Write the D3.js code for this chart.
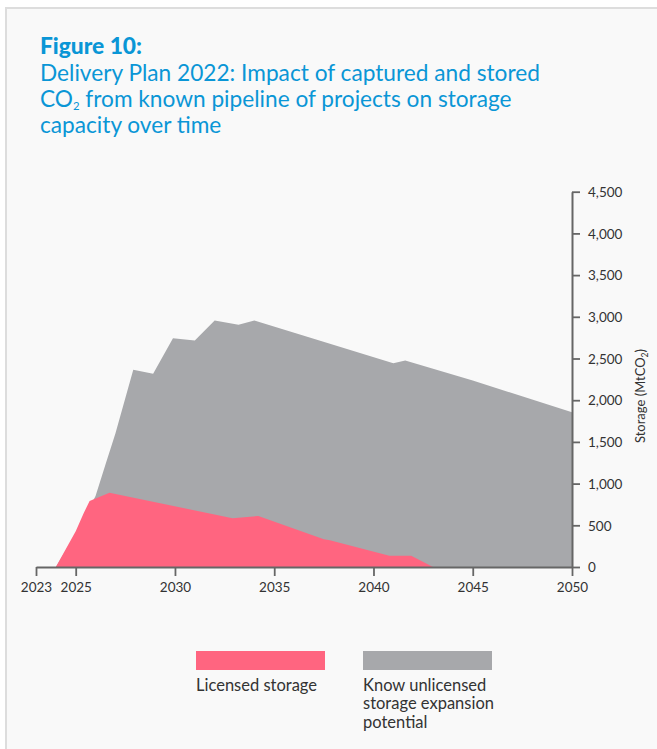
<!DOCTYPE html>
<html>
<head>
<meta charset="utf-8">
<script src="https://cdn.jsdelivr.net/npm/d3@7"></script>
<style>
  html, body { margin: 0; padding: 0; background: #ffffff; }
  svg { display: block; }
</style>
</head>
<body>
<svg id="chart" width="657" height="749"></svg>
<script>
// Axis ticks
const yearTicks = [2023, 2025, 2030, 2035, 2040, 2045, 2050];
const storageTicks = [0, 500, 1000, 1500, 2000, 2500, 3000, 3500, 4000, 4500];

// Total storage capacity (licensed + known unlicensed expansion potential), MtCO2
const totalYears   = [2024, 2025, 2026, 2026.5, 2027, 2027.9, 2028.9, 2029.9, 2031, 2032, 2033.2, 2034, 2041, 2041.6, 2045, 2050];
const totalStorage = [0,    400,  850,  1230,   1600, 2364,   2316,   2744,   2716, 2956, 2904,   2956, 2444, 2476,   2236, 1856];

// Licensed storage, MtCO2
const licensedYears   = [2024, 2025, 2025.4, 2025.7, 2026.7, 2032.9, 2034.2, 2037.5, 2037.8, 2040.8, 2041.9, 2043, 2050];
const licensedStorage = [0,    430,  645,    790,    890,    585,    612,    332,    322,    136,    136,    0,    0];

// Legend
const legendLabels = [["Licensed storage"], ["Know unlicensed", "storage expansion", "potential"]];
const colors = { licensed: "#ff6580", unlicensed: "#a7a8ab" };

const FONT = "Lato, 'Open Sans', sans-serif";
const svg = d3.select("#chart");

// Shrink or grow a text element's font size so it spans the given width
const fitText = (sel, target) => {
  const size = parseFloat(sel.attr("font-size"));
  const w = sel.node().getComputedTextLength();
  const s = size * target / w;
  sel.attr("font-size", s.toFixed(2));
  return s;
};

// Panel background with border
svg.append("rect")
  .attr("x", 6).attr("y", 8).attr("width", 700).attr("height", 800)
  .attr("fill", "#f9f9f9").attr("stroke", "#dddddd").attr("stroke-width", 2);

// Title
const title = svg.append("g").attr("font-family", FONT).attr("fill", "#0a96d6");
const t0 = title.append("text").attr("x", 40).attr("y", 54)
  .attr("font-size", 20).attr("font-weight", 900).text("Figure 10:");
fitText(t0, 102);
const t1 = title.append("text").attr("x", 40).attr("y", 81)
  .attr("font-size", 20).text("Delivery Plan 2022: Impact of captured and stored");
const fs = fitText(t1, 500);
const t2 = title.append("text").attr("x", 40).attr("y", 107).attr("font-size", fs);
t2.append("tspan").text("CO");
t2.append("tspan").attr("font-size", fs * 0.5).attr("dy", 2.5).text("2");
t2.append("tspan").attr("dy", -2.5).text(" from known pipeline of projects on storage");
title.append("text").attr("x", 40).attr("y", 133).attr("font-size", fs).text("capacity over time");

// Scales
const x = d3.scaleLinear().domain([2023, 2050]).range([36, 572]);
const y = d3.scaleLinear().domain([0, 4500]).range([567, 191.7]);

const area = d3.area().x(d => x(d[0])).y0(y(0)).y1(d => y(d[1]));

const totalData = d3.zip(totalYears, totalStorage);
const licensedData = d3.zip(licensedYears, licensedStorage);

svg.append("path").datum(totalData).attr("d", area).attr("fill", colors.unlicensed);
svg.append("path").datum(licensedData).attr("d", area).attr("fill", colors.licensed);

// X axis
const xAxis = svg.append("g").attr("transform", `translate(0,${y(0)})`)
  .call(d3.axisBottom(x).tickValues(yearTicks).tickFormat(d3.format("d"))
    .tickSize(9).tickSizeOuter(0).tickPadding(6));
// Y axis
const yAxis = svg.append("g").attr("transform", `translate(${x(2050)},0)`)
  .call(d3.axisRight(y).tickValues(storageTicks).tickFormat(d3.format(","))
    .tickSize(8).tickSizeOuter(0).tickPadding(8));

[xAxis, yAxis].forEach(g => {
  g.selectAll(".domain").attr("stroke", "#666").attr("stroke-width", 2);
  g.selectAll(".tick line").attr("stroke", "#666").attr("stroke-width", 1.8);
  g.selectAll(".tick text").attr("fill", "#333").attr("font-family", FONT).attr("font-size", 13.5);
});
yAxis.selectAll(".tick text").attr("dy", "0.35em");

// Y axis title
const yt = svg.append("text")
  .attr("transform", "translate(645,396) rotate(-90)")
  .attr("text-anchor", "middle")
  .attr("font-family", FONT).attr("font-size", 13).attr("fill", "#333");
yt.append("tspan").text("Storage (MtCO");
yt.append("tspan").attr("font-size", 8.5).attr("dy", 3).text("2");
yt.append("tspan").attr("dy", -3).text(")");

// Legend
const legend = svg.append("g").attr("font-family", FONT).attr("fill", "#333");
const legendX = [196, 363];
[colors.licensed, colors.unlicensed].forEach((c, i) => {
  legend.append("rect").attr("x", legendX[i]).attr("y", 651)
    .attr("width", 129).attr("height", 19).attr("fill", c);
  legendLabels[i].forEach((line, j) => {
    legend.append("text").attr("x", legendX[i]).attr("y", 691 + j * 18.3)
      .attr("font-size", 16.5).text(line);
  });
});
</script>
</body>
</html>
